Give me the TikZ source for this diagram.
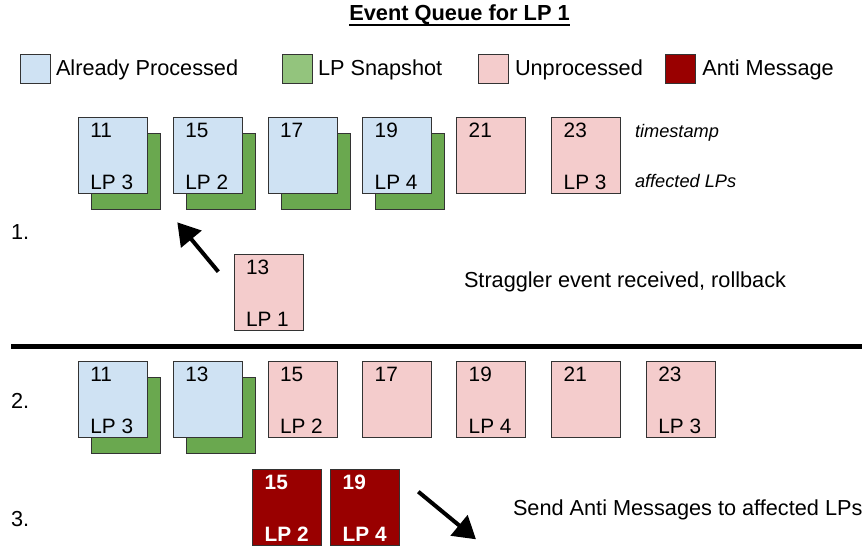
\documentclass[tikz,border=0pt]{standalone}
\usepackage{fontspec}
\setmainfont{Liberation Sans}
\usetikzlibrary{arrows.meta}
\definecolor{procblue}{HTML}{CFE2F3}
\definecolor{snapgreen}{HTML}{6AA84F}
\definecolor{snaplegend}{HTML}{93C47D}
\definecolor{unproc}{HTML}{F4CCCC}
\definecolor{antired}{HTML}{990000}
\definecolor{edge}{HTML}{333333}
\tikzset{
  cell/.style={draw=edge, line width=1pt, inner sep=0pt, outer sep=0pt,
    minimum width=69pt, minimum height=76pt, anchor=north west},
  swatch/.style={draw=edge, line width=1pt, inner sep=0pt, outer sep=0pt,
    minimum width=30pt, minimum height=29pt, anchor=north west},
  txt/.style={inner sep=0pt, outer sep=0pt, anchor=base west,
    font=\fontsize{21.7}{26}\selectfont},
  celltxt/.style={txt, font=\fontsize{20.8}{24}\selectfont},
  antitxt/.style={txt, text=white, font=\fontsize{20.8}{24}\selectfont\bfseries},
  note/.style={txt, font=\fontsize{18.2}{21}\selectfont\itshape},
  bigarrow/.style={line width=4pt, -{Triangle[length=22pt,width=26pt]}},
}
% queue cell: name, x, y, fill, text style, timestamp, affected LP
\newcommand\qcell[7]{%
  \node[cell, fill=#4] (#1) at (#2,#3) {};
  \node[#5] (#1-ts) at ([shift={(12,20)}]#1.north west) {#6};
  \node[#5] (#1-lp) at ([shift={(12,-4)}]#1.south west) {#7};
}
% processed cell with its snapshot behind it
\newcommand\pcell[5]{%
  \node[cell, fill=snapgreen] (#1-snap) at (#2+13,#3+16) {};
  \qcell{#1}{#2}{#3}{procblue}{celltxt}{#4}{#5}
}
\begin{document}
\begin{tikzpicture}[x=1pt, y=-1pt]
  \useasboundingbox (0,0) rectangle (868,546);

  % title
  \node[inner sep=0pt, anchor=base, font=\fontsize{21.8}{26}\selectfont\bfseries]
    (title) at (459.5,20.7) {Event Queue for LP 1};
  \draw[line width=1.8pt] ([yshift=-4.3pt]title.base west) -- ([yshift=-4.3pt]title.base east);

  % legend
  \node[swatch, fill=procblue] (lg1) at (20,54) {};
  \node[txt] (lg1-t) at (56,75.7) {Already Processed};
  \node[swatch, fill=snaplegend] (lg2) at (282.3,54) {};
  \node[txt] (lg2-t) at (318,75.7) {LP Snapshot};
  \node[swatch, fill=unproc] (lg3) at (478.3,54) {};
  \node[txt] (lg3-t) at (515,75.7) {Unprocessed};
  \node[swatch, fill=antired] (lg4) at (665.7,54) {};
  \node[txt] (lg4-t) at (702.3,75.7) {Anti Message};

  % step 1: queue before the straggler
  \node[txt] (s1) at (11,239) {1.};
  \pcell{a1}{78.3}{117}{11}{LP 3}
  \pcell{a2}{173.3}{117}{15}{LP 2}
  \pcell{a3}{268}{117}{17}{}
  \pcell{a4}{362.7}{117}{19}{LP 4}
  \qcell{a5}{456.7}{117}{unproc}{celltxt}{21}{}
  \qcell{a6}{551.7}{117}{unproc}{celltxt}{23}{LP 3}
  \node[note] (ts) at (635,137.5) {timestamp};
  \node[note] (aff) at (635,187.5) {affected LPs};

  % straggler event
  \qcell{st}{234}{254}{unproc}{celltxt}{13}{LP 1}
  \coordinate (stA) at (218.3,271.7);
  \coordinate (stB) at (177.3,222.3);
  \draw[bigarrow] (stA) -- (stB);
  \node[txt] (strag) at (464,287.3) {Straggler event received, rollback};

  % separator
  \coordinate (sepL) at (11,346.5);
  \coordinate (sepR) at (862,346.5);
  \draw[line width=4.5pt] (sepL) -- (sepR);

  % step 2: queue after rollback
  \node[txt] (s2) at (11,408) {2.};
  \pcell{b1}{78.3}{361}{11}{LP 3}
  \pcell{b2}{173.3}{361}{13}{}
  \qcell{b3}{268}{361}{unproc}{celltxt}{15}{LP 2}
  \qcell{b4}{362.7}{361}{unproc}{celltxt}{17}{}
  \qcell{b5}{456.7}{361}{unproc}{celltxt}{19}{LP 4}
  \qcell{b6}{551.7}{361}{unproc}{celltxt}{21}{}
  \qcell{b7}{646.3}{361}{unproc}{celltxt}{23}{LP 3}

  % step 3: anti messages
  \node[txt] (s3) at (11,526.7) {3.};
  \qcell{c1}{252.7}{469}{antired}{antitxt}{15}{LP 2}
  \qcell{c2}{330.7}{469}{antired}{antitxt}{19}{LP 4}
  \coordinate (anA) at (418.3,491.7);
  \coordinate (anB) at (476,539.3);
  \draw[bigarrow] (anA) -- (anB);
  \node[txt] (send) at (513,515) {Send Anti Messages to affected LPs};
\end{tikzpicture}
\end{document}
